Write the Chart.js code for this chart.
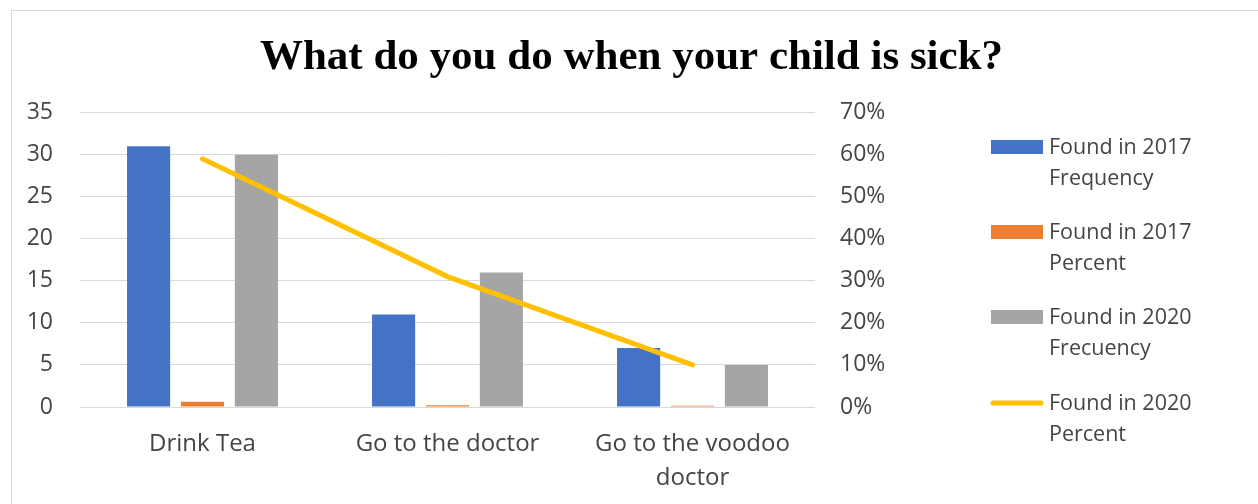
<!DOCTYPE html>
<html>
<head>
<meta charset="utf-8">
<script src="https://cdn.jsdelivr.net/npm/chart.js@4.4.1/dist/chart.umd.min.js"></script>
<style>
  html, body { margin: 0; padding: 0; background: #fff; }
  #wrap { position: relative; width: 1258px; height: 504px; overflow: hidden; }
  #frame { position: absolute; left: 11px; top: 10px; width: 1300px; height: 600px;
           border-left: 1px solid #d9d9d9; border-top: 1px solid #d9d9d9; }
  canvas { position: absolute; left: 0; top: 0; }
</style>
</head>
<body>
<div id="wrap">
  <div id="frame"></div>
  <canvas id="sickChart" width="1258" height="504"></canvas>
</div>
<script>
// Answers and counts
const answers = ['Drink Tea', 'Go to the doctor', ['Go to the voodoo', 'doctor']];
const freq2017 = [31, 11, 7];
const pct2017 = [0.63, 0.22, 0.14];
const freq2020 = [30, 16, 5];
const pct2020 = [0.59, 0.31, 0.10];

const seriesNames = [
  ['Found in 2017', 'Frequency'],
  ['Found in 2017', 'Percent'],
  ['Found in 2020', 'Frecuency'],
  ['Found in 2020', 'Percent']
];
const seriesColors = ['#4472C4', '#ED7D31', '#A5A5A5', '#FFC000'];

const fontFamily = '"Open Sans", "Liberation Sans", sans-serif';
const tickFont = { family: fontFamily, size: 23 };
const tickColor = '#454545';

// legend on the right, two text lines per entry
const sideLegend = {
  id: 'sideLegend',
  afterDraw(chart) {
    const ctx = chart.ctx;
    const x0 = 991, x1 = 1043, tx = 1049;
    const ys = [147, 232, 317, 403];
    ctx.save();
    ctx.font = '21.5px ' + fontFamily;
    ctx.textBaseline = 'middle';
    ctx.textAlign = 'left';
    seriesNames.forEach((lines, i) => {
      const y = ys[i];
      if (i === 3) {
        ctx.strokeStyle = seriesColors[i];
        ctx.lineWidth = 5;
        ctx.lineCap = 'round';
        ctx.beginPath();
        ctx.moveTo(x0 + 2, y);
        ctx.lineTo(x1 - 2, y);
        ctx.stroke();
      } else {
        ctx.fillStyle = seriesColors[i];
        ctx.fillRect(x0, y - 7, x1 - x0, 14);
      }
      ctx.fillStyle = tickColor;
      lines.forEach((t, j) => ctx.fillText(t, tx, y + 1 + j * 31));
    });
    ctx.restore();
  }
};

new Chart(document.getElementById('sickChart'), {
  data: {
    labels: answers,
    datasets: [
      { type: 'bar', label: seriesNames[0].join(' '), data: freq2017, backgroundColor: seriesColors[0], yAxisID: 'y', order: 1 },
      { type: 'bar', label: seriesNames[1].join(' '), data: pct2017, backgroundColor: seriesColors[1], yAxisID: 'y', order: 1 },
      { type: 'bar', label: seriesNames[2].join(' '), data: freq2020, backgroundColor: seriesColors[2], yAxisID: 'y', order: 1 },
      { type: 'line', label: seriesNames[3].join(' '), data: pct2020, borderColor: seriesColors[3], borderWidth: 5,
        borderCapStyle: 'round', pointRadius: 0, tension: 0, yAxisID: 'y1', order: 0 }
    ]
  },
  options: {
    responsive: false,
    animation: false,
    datasets: {
      bar: { categoryPercentage: 0.66, barPercentage: 0.8 }
    },
    layout: { padding: { left: 5, right: 0, top: 0, bottom: 0 } },
    plugins: {
      legend: { display: false },
      tooltip: { enabled: false },
      title: {
        display: true,
        text: 'What do you do when your child is sick?',
        color: '#000',
        font: { family: '"Liberation Serif", "Times New Roman", serif', size: 43, weight: 'bold', lineHeight: 1.2 },
        padding: { top: 32, bottom: 29 }
      }
    },
    scales: {
      x: {
        grid: { display: false },
        border: { display: false },
        ticks: { color: tickColor, font: { family: fontFamily, size: 24, lineHeight: '34px' }, padding: 12, maxRotation: 0, autoSkip: false },
        afterFit(scale) { scale.height = 97; }
      },
      y: {
        position: 'left',
        min: 0, max: 35,
        ticks: { stepSize: 5, color: tickColor, font: tickFont, padding: 27 },
        grid: { color: '#d9d9d9', drawTicks: false },
        border: { display: false },
        afterFit(scale) { scale.width = 75; }
      },
      y1: {
        position: 'right',
        min: 0, max: 0.7,
        ticks: { stepSize: 0.1, color: tickColor, font: tickFont, padding: 25,
                 callback: v => Math.round(v * 100) + '%' },
        grid: { display: false, drawTicks: false },
        border: { display: false },
        // wide right axis leaves room for the legend
        afterFit(scale) { scale.width = 443; }
      }
    }
  },
  plugins: [sideLegend]
});
</script>
</body>
</html>
